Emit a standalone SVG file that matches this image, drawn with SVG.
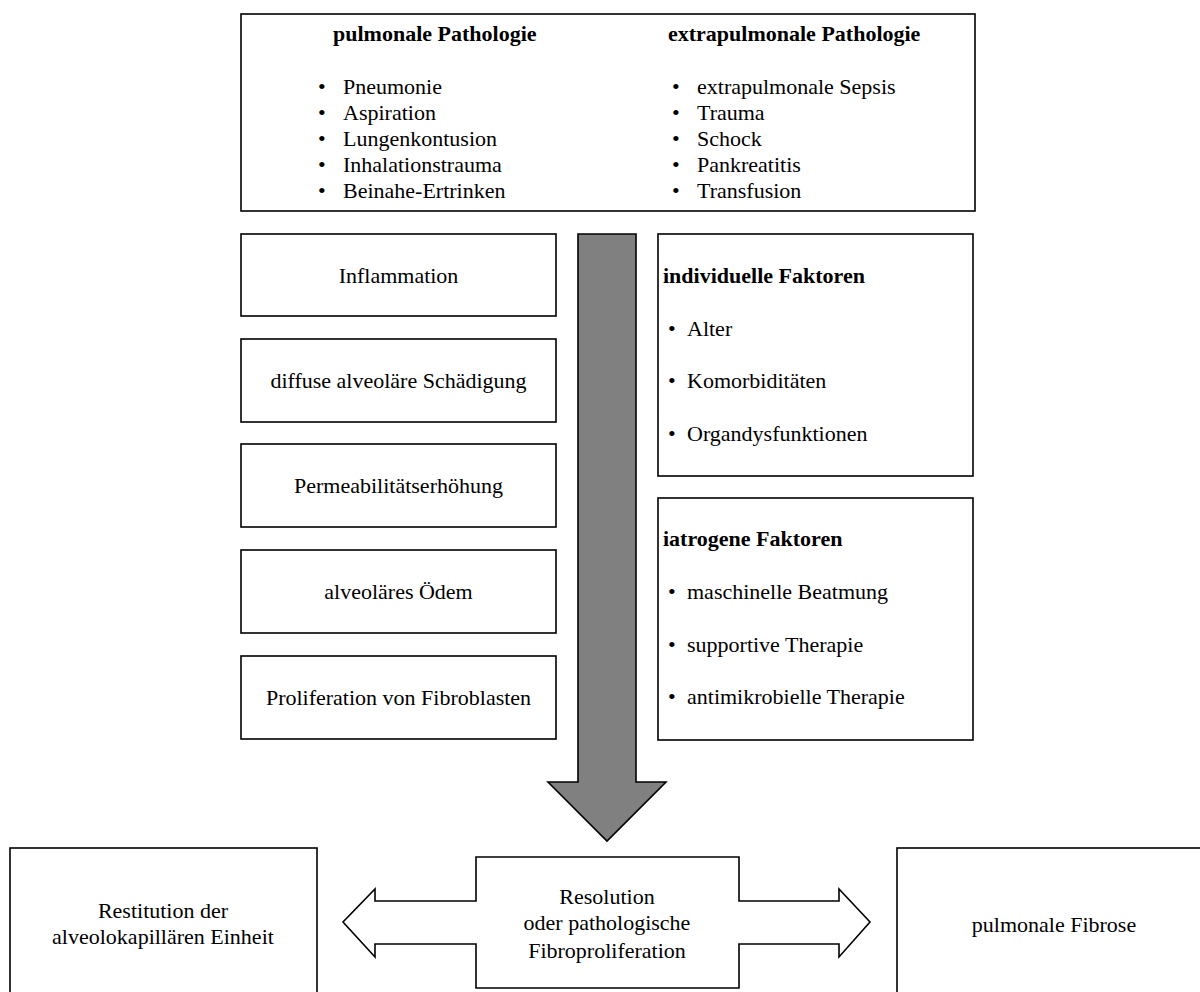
<svg xmlns="http://www.w3.org/2000/svg" width="1200" height="992" viewBox="0 0 1200 992">
<style>
.box{fill:#fff;stroke:#000;stroke-width:1.6}
text{font-family:"Liberation Serif","Times New Roman",serif;font-size:22px;fill:#000}
.b{font-weight:bold}
.c{text-anchor:middle}
</style>
<rect width="1200" height="992" fill="#fff"/>
<g id="connectors">
<path d="M578,234 H636 V782 H666 L607,841 L548,782 H578 Z" fill="#808080" stroke="#000" stroke-width="1.6"/>
</g>
<g id="top">
<rect class="box" x="241" y="14" width="734" height="197"/>
<text class="b" x="333" y="41">pulmonale Pathologie</text>
<text x="318" y="94">•</text><text x="343" y="94">Pneumonie</text>
<text x="318" y="120">•</text><text x="343" y="120">Aspiration</text>
<text x="318" y="146">•</text><text x="343" y="146">Lungenkontusion</text>
<text x="318" y="172">•</text><text x="343" y="172">Inhalationstrauma</text>
<text x="318" y="198">•</text><text x="343" y="198">Beinahe-Ertrinken</text>
<text class="b" x="668" y="41">extrapulmonale Pathologie</text>
<text x="672" y="94">•</text><text x="697" y="94">extrapulmonale Sepsis</text>
<text x="672" y="120">•</text><text x="697" y="120">Trauma</text>
<text x="672" y="146">•</text><text x="697" y="146">Schock</text>
<text x="672" y="172">•</text><text x="697" y="172">Pankreatitis</text>
<text x="672" y="198">•</text><text x="697" y="198">Transfusion</text>
</g>
<g id="inflammation"><rect class="box" x="241" y="234" width="315" height="82"/><text class="c" x="398.5" y="283">Inflammation</text></g>
<g id="dad"><rect class="box" x="241" y="339" width="315" height="83"/><text class="c" x="398.5" y="388">diffuse alveoläre Schädigung</text></g>
<g id="perm"><rect class="box" x="241" y="444" width="315" height="83"/><text class="c" x="398.5" y="493">Permeabilitätserhöhung</text></g>
<g id="oedem"><rect class="box" x="241" y="550" width="315" height="83"/><text class="c" x="398.5" y="599">alveoläres Ödem</text></g>
<g id="fibro"><rect class="box" x="241" y="656" width="315" height="83"/><text class="c" x="398.5" y="705">Proliferation von Fibroblasten</text></g>
<g id="individuell">
<rect class="box" x="658" y="234" width="315" height="242"/>
<text class="b" x="663" y="283">individuelle Faktoren</text>
<text x="668" y="336">•</text><text x="687" y="336">Alter</text>
<text x="668" y="388">•</text><text x="687" y="388">Komorbiditäten</text>
<text x="668" y="441">•</text><text x="687" y="441">Organdysfunktionen</text>
</g>
<g id="iatrogen">
<rect class="box" x="658" y="498" width="315" height="242"/>
<text class="b" x="663" y="546">iatrogene Faktoren</text>
<text x="668" y="599">•</text><text x="687" y="599">maschinelle Beatmung</text>
<text x="668" y="652">•</text><text x="687" y="652">supportive Therapie</text>
<text x="668" y="704">•</text><text x="687" y="704">antimikrobielle Therapie</text>
</g>
<g id="restitution">
<rect class="box" x="10" y="848" width="307" height="160"/>
<text class="c" x="163" y="918">Restitution der</text>
<text class="c" x="163" y="944">alveolokapillären Einheit</text>
</g>
<g id="resolution">
<path class="box" d="M476,857 H739 V901 H839 V889 L870,922 L839,957 V944 H739 V988 H476 V944 H375 V957 L343,922 L375,889 V901 H476 Z"/>
<text class="c" x="607" y="904">Resolution</text>
<text class="c" x="607" y="930">oder pathologische</text>
<text class="c" x="607" y="958">Fibroproliferation</text>
</g>
<g id="fibrose">
<rect class="box" x="897" y="848" width="320" height="160"/>
<text class="c" x="1054" y="932">pulmonale Fibrose</text>
</g>
</svg>
